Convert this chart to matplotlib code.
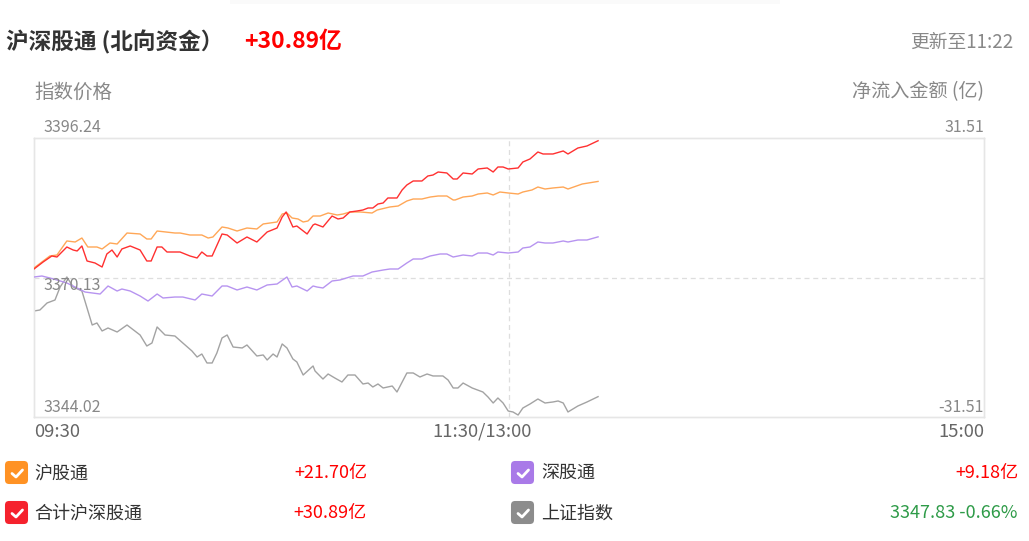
import matplotlib
matplotlib.use("Agg")
import matplotlib.pyplot as plt
from matplotlib.patches import FancyBboxPatch, Rectangle

plt.rcParams['font.family'] = ['Noto Sans CJK SC', 'DejaVu Sans']

# ---------------- data (minutes after 09:30, values) ----------------
t_total = [0, 2.3, 4.5, 5.8, 8.3, 9.9, 10.9, 12.1, 13.4, 15.4, 17.2, 18.4, 19.7, 21.0, 22.2, 24.3,
           26.8, 28.5, 29.6, 31.1, 32.3, 33.6, 35.6, 36.9, 39.4, 41.2, 42.4, 43.7, 45.0, 47.5, 48.8,
           51.3, 53.8, 56.3, 58.9, 61.4, 62.7, 63.7, 65.4, 66.4, 69.0, 70.5, 71.0, 73.0, 75.3, 76.8,
           78.1, 79.8, 81.6, 83.1, 84.4, 85.6, 86.9, 88.2, 89.4, 91.7, 93.0, 94.2, 95.8, 98.0, 99.5,
           100.8, 102.1, 104.3, 105.9, 106.9, 108.4, 110.7, 112.2, 114.5, 116.0, 117.2, 118.5, 119.8,
           122.3, 123.5, 125.3, 127.3, 128.6, 131.1, 133.7, 134.9, 137.4, 139.7, 142.5]
v_total = [1.92, 3.50, 4.86, 4.63, 6.89, 6.21, 5.99, 7.12, 3.73, 3.28, 2.37, 5.31, 6.21, 4.63, 6.44, 7.12,
           6.21, 3.73, 3.73, 6.89, 6.89, 5.76, 5.76, 5.76, 4.86, 4.41, 5.76, 4.86, 4.86, 9.83, 9.60,
           7.79, 9.15, 8.02, 10.28, 11.18, 13.67, 14.80, 11.41, 11.63, 9.83, 11.86, 12.09, 11.41, 13.89, 13.22,
           13.44, 14.80, 15.02, 15.25, 15.70, 15.70, 16.60, 16.83, 17.96, 17.96, 19.77, 20.90, 21.80, 21.80, 22.93,
           23.15, 23.83, 23.61, 22.25, 22.25, 23.61, 23.38, 24.51, 24.74, 23.83, 24.96, 24.96, 24.51,
           24.74, 26.09, 26.77, 28.35, 27.90, 27.90, 28.58, 27.90, 29.25, 29.71, 30.89]

t_sh = [0, 4.0, 5.8, 8.3, 10.4, 12.1, 13.6, 15.9, 17.2, 19.2, 21.0, 23.5, 26.8, 28.5, 29.6, 31.1,
        35.6, 36.9, 39.4, 42.4, 44.0, 45.2, 47.5, 49.0, 51.3, 53.8, 56.3, 57.9, 61.4, 62.7, 63.9,
        65.2, 66.7, 68.0, 69.2, 70.5, 72.3, 74.3, 76.6, 78.1, 79.8, 82.4, 85.4, 86.7, 89.9, 92.0,
        94.2, 95.8, 98.0, 100.1, 102.1, 104.3, 105.9, 106.4, 108.4, 110.7, 112.2, 114.5, 116.0, 117.7,
        119.8, 122.3, 123.5, 125.8, 127.3, 129.1, 131.1, 133.7, 134.9, 138.5, 142.5]
v_sh = [2.15, 4.86, 5.08, 8.25, 8.02, 8.92, 6.89, 6.89, 6.44, 7.79, 7.57, 10.05, 9.83, 8.70, 8.70, 10.50,
        10.05, 10.05, 9.60, 9.60, 8.92, 9.15, 11.41, 11.18, 10.50, 11.18, 10.96, 12.09, 12.54, 14.34, 14.57,
        13.44, 13.22, 12.54, 12.76, 13.89, 13.89, 14.57, 14.12, 14.34, 14.80, 14.80, 14.57, 15.25, 15.93, 16.15,
        17.28, 17.73, 17.73, 18.18, 18.41, 18.41, 17.51, 17.51, 18.18, 18.41, 18.86, 19.09, 18.64, 19.31,
        19.09, 18.86, 19.31, 19.77, 20.44, 19.99, 20.22, 20.44, 19.99, 21.12, 21.70]

t_sz = [0, 2.0, 4.0, 5.8, 8.3, 10.9, 12.9, 16.7, 18.7, 21.0, 22.2, 24.3, 26.8, 28.8, 31.1, 32.6,
        35.6, 37.6, 40.7, 42.4, 45.0, 47.5, 48.8, 51.3, 53.8, 56.3, 58.9, 61.4, 63.9, 65.2, 66.4,
        69.0, 70.5, 71.5, 73.0, 75.3, 77.3, 80.6, 83.1, 85.4, 88.2, 89.9, 92.0, 94.2, 95.8, 98.0,
        100.1, 102.6, 104.3, 105.9, 108.4, 110.7, 112.2, 114.5, 116.0, 117.2, 119.8, 122.3, 123.5,
        125.3, 127.3, 129.1, 131.1, 133.7, 134.9, 137.4, 139.7, 142.5]
v_sz = [0.11, 0.34, -0.11, -0.56, -1.24, -2.37, -3.28, -3.73, -1.92, -3.05, -2.60, -3.05, -4.18, -5.31, -3.73, -4.63,
        -4.41, -4.41, -5.08, -3.73, -4.18, -1.92, -1.92, -2.82, -2.15, -2.82, -1.69, -1.47, 0.11, -2.15, -1.92,
        -3.05, -1.92, -2.15, -2.37, -0.79, -0.56, 0.34, 0.34, 1.24, 1.69, 1.92, 1.92, 3.28, 4.18, 4.18,
        4.86, 5.31, 5.31, 4.63, 5.08, 4.86, 5.53, 5.53, 5.08, 5.76, 5.53, 5.76, 6.66,
        6.89, 8.02, 7.79, 7.79, 8.25, 8.02, 8.47, 8.47, 9.18]

t_idx = [0, 1.5, 3.3, 5.3, 6.6, 8.3, 9.9, 12.1, 14.7, 15.9, 17.2, 18.7, 21.0, 23.5, 26.8, 28.5,
         29.8, 31.1, 33.1, 35.6, 37.6, 39.9, 41.2, 42.4, 43.7, 45.0, 46.2, 47.5, 48.8, 50.3, 52.6,
         53.8, 56.3, 57.9, 58.9, 60.4, 61.4, 62.7, 63.9, 65.4, 66.4, 68.0, 70.5, 71.0, 73.0, 74.3,
         76.0, 77.8, 79.3, 81.1, 83.1, 84.4, 85.6, 86.9, 88.2, 90.5, 91.7, 94.2, 95.8, 97.5, 99.3,
         100.8, 103.3, 104.6, 105.9, 107.1, 108.4, 110.7, 113.4, 114.7, 116.0, 117.2, 118.5, 119.8,
         121.0, 122.3, 123.5, 125.3, 127.3, 129.1, 131.1, 132.4, 133.7, 134.9, 137.4, 139.7, 142.5]
v_idx = [3363.86, 3364.05, 3365.36, 3365.92, 3368.36, 3370.23, 3368.36, 3367.61, 3361.24, 3361.62, 3360.12,
         3360.68, 3359.93, 3361.24, 3359.37, 3357.31, 3357.87, 3360.87, 3359.37, 3359.18, 3357.87, 3356.38,
         3355.25, 3355.81, 3354.13, 3354.13, 3356.00, 3358.81, 3359.37, 3357.12, 3356.94, 3357.50, 3355.44,
         3355.63, 3354.69, 3355.81, 3355.25, 3357.69, 3356.94, 3354.88, 3354.32, 3351.88, 3353.57, 3352.63,
         3351.13, 3352.07, 3351.32, 3350.57, 3351.88, 3351.88, 3350.20, 3350.38, 3349.64, 3350.20, 3349.45,
         3349.82, 3348.70, 3352.26, 3352.26, 3351.51, 3352.07, 3351.70, 3351.70, 3350.95, 3349.45, 3349.45,
         3350.38, 3349.45, 3348.70, 3347.76, 3346.64, 3347.58, 3346.64, 3345.14, 3344.96, 3344.39, 3345.70,
         3346.45, 3347.39, 3346.64, 3346.83, 3347.02, 3346.64, 3344.96, 3346.08, 3346.83, 3347.83]

idx_ticks = ["3396.24", "3370.13", "3344.02"]
flow_ticks = ["31.51", "-31.51"]
time_ticks = ["09:30", "11:30/13:00", "15:00"]
legend_names = ["沪股通", "深股通", "合计沪深股通", "上证指数"]
legend_values = ["+21.70亿", "+9.18亿", "+30.89亿", "3347.83 -0.66%"]
legend_colors = ["#ff9224", "#a97ae8", "#f5222d", "#8c8c8c"]
value_colors = ["#ff0000", "#ff0000", "#ff0000", "#2e9b48"]

# ---------------- figure ----------------
W, H = 1029, 541
fig = plt.figure(figsize=(W / 100, H / 100), dpi=100)
fig.patch.set_facecolor("white")


def fx(x):
    return x / W


def fy(y):
    return 1 - y / H


# faint top strip
fig.patches.append(Rectangle((fx(230), fy(4)), fx(550), 4 / H, transform=fig.transFigure,
                             facecolor="#fafafa", edgecolor="none", zorder=0))

ax = fig.add_axes([fx(34), fy(417), fx(984 - 34), (417 - 138) / H])
ax.set_xlim(0, 240)
ax.set_ylim(3344.02, 3396.24)
ax2 = ax.twinx()
ax2.set_ylim(-31.51, 31.51)
for a in (ax, ax2):
    a.set_xticks([])
    a.set_yticks([])
    for s in a.spines.values():
        s.set_color("#e6e6e6")
        s.set_linewidth(1)
ax2.set_zorder(ax.get_zorder() + 1)
ax2.patch.set_visible(False)

# grid dashed lines
ax2.axhline(0, color="#dedede", linestyle=(0, (4, 3)), linewidth=0.9, zorder=1)
ax2.axvline(120, color="#dedede", linestyle=(0, (4, 3)), linewidth=0.9, zorder=1)

ax.plot(t_idx, v_idx, color="#a3a3a3", linewidth=1.0, zorder=3)
ax2.plot(t_sh, v_sh, color="#ffa757", linewidth=1.0, zorder=3)
ax2.plot(t_sz, v_sz, color="#b794f0", linewidth=1.0, zorder=3)
ax2.plot(t_total, v_total, color="#ff3030", linewidth=1.0, zorder=4)

# ---------------- texts ----------------
fig.text(fx(6), fy(42), "沪深股通 (北向资金）", fontsize=16.3, fontweight="bold", color="#333333",
         va="center", ha="left")
fig.text(fx(244), fy(42), "+30.89亿", fontsize=16.5, fontweight="bold", color="#ff0000",
         va="center", ha="left")
fig.text(fx(1013), fy(42), "更新至11:22", fontsize=13.5, color="#888888", va="center", ha="right")
fig.text(fx(34), fy(92), "指数价格", fontsize=14, color="#888888", va="center", ha="left")
fig.text(fx(984), fy(92), "净流入金额 (亿)", fontsize=13.8, color="#888888", va="center", ha="right")

gray = "#888888"
fig.text(fx(44), fy(127), idx_ticks[0], fontsize=11.5, color=gray, va="center", ha="left")
fig.text(fx(44), fy(286), idx_ticks[1], fontsize=11.5, color=gray, va="center", ha="left", zorder=5)
fig.text(fx(44), fy(408), idx_ticks[2], fontsize=11.5, color=gray, va="center", ha="left")
fig.text(fx(984), fy(127), flow_ticks[0], fontsize=11.5, color=gray, va="center", ha="right")
fig.text(fx(984), fy(408), flow_ticks[1], fontsize=11.5, color=gray, va="center", ha="right")

fig.text(fx(34), fy(432), time_ticks[0], fontsize=13.3, color="#666666", va="center", ha="left")
fig.text(fx(482), fy(432), time_ticks[1], fontsize=13.3, color="#666666", va="center", ha="center")
fig.text(fx(984), fy(432), time_ticks[2], fontsize=13.3, color="#666666", va="center", ha="right")

# ---------------- legend ----------------
rows = [473, 473, 513, 513]
box_x = [5, 511, 5, 511]
name_x = [34, 541, 34, 541]
val_x = [367, 1018, 367, 1018]
for i in range(4):
    y = rows[i]
    bx = box_x[i]
    box = FancyBboxPatch((fx(bx + 1), fy(y + 10)), 21 / W, 21 / H,
                         boxstyle="round,pad=0.001,rounding_size=0.004",
                         transform=fig.transFigure, facecolor=legend_colors[i],
                         edgecolor="none", mutation_aspect=W / H)
    fig.patches.append(box)
    cx = [bx + 7, bx + 11, bx + 17.5]
    cy = [y + 0.5, y + 4, y - 3]
    fig.lines.append(plt.Line2D([fx(c) for c in cx], [fy(c) for c in cy],
                                transform=fig.transFigure, color="white", linewidth=2.0,
                                solid_capstyle="round", solid_joinstyle="round"))
    fig.text(fx(name_x[i]), fy(y + 1), legend_names[i], fontsize=13, color="#333333",
             va="center", ha="left")
    fig.text(fx(val_x[i]), fy(y), legend_values[i], fontsize=13, color=value_colors[i],
             va="center", ha="right")

fig.savefig("out.png", dpi=100, facecolor="white")
